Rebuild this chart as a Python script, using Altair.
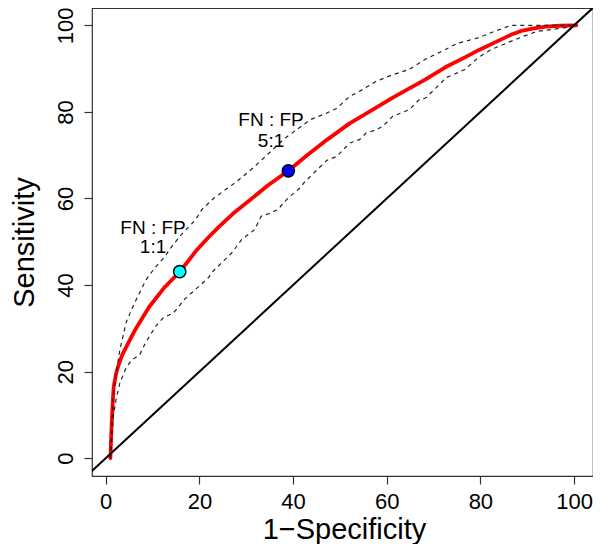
import altair as alt
import pandas as pd

# ---- data ----
roc_x = [1.0, 1.2, 1.5, 1.7, 2.2, 2.65, 3.5, 4.8, 6.2, 7.6, 9.3, 10.7, 12.5, 14.2, 15.8,
         17.5, 19.2, 22.0, 24.1, 27.6, 30.4, 34.6, 39.0, 43.0, 47.3, 52.0, 56.4, 61.3,
         68.3, 72.5, 76.7, 79.5, 83.0, 86.5, 89.0, 91.4, 94.0, 97.0, 100.5]
roc_y = [0.0, 6.0, 13.0, 16.5, 19.5, 21.2, 23.8, 26.6, 29.5, 32.0, 35.0, 36.9, 39.4, 41.3, 43.1,
         45.4, 47.8, 51.1, 53.4, 56.9, 59.3, 63.0, 66.4, 70.0, 73.6, 77.3, 80.1, 83.3,
         87.5, 90.3, 92.6, 94.2, 96.0, 97.8, 98.8, 99.3, 99.7, 99.9, 100.0]

up_x = [1.0, 1.3, 1.6, 2.0, 3.0, 4.4, 5.8, 6.5, 8.6, 10.5, 12.8, 13.6, 16.0, 19.2, 20.5,
        23.0, 25.5, 27.6, 31.1, 34.6, 38.1, 43.7, 47.3, 49.3, 52.0, 54.9, 57.8, 61.3,
        64.8, 68.3, 71.8, 75.0, 79.5, 83.0, 86.5, 100.5]
up_y = [0.0, 8.0, 14.0, 17.8, 25.0, 31.5, 35.0, 36.6, 41.2, 44.0, 46.8, 48.2, 51.5, 55.1, 57.4,
        60.0, 62.0, 63.6, 66.7, 70.2, 73.8, 78.2, 79.8, 80.8, 83.5, 85.2, 87.1, 88.6,
        89.8, 92.2, 94.0, 95.8, 97.1, 98.6, 100.0, 100.0]

lo_x = [1.0, 1.3, 1.6, 2.2, 3.0, 4.2, 5.5, 7.2, 8.2, 9.3, 10.7, 12.3, 14.4, 15.6, 16.7,
        19.9, 22.0, 22.7, 26.9, 29.0, 31.8, 33.2, 34.6, 36.7, 39.0, 41.6, 42.3, 45.0,
        47.2, 49.3, 52.1, 54.2, 55.6, 57.8, 59.2, 61.3, 64.8, 66.9, 68.3, 71.8, 72.5,
        76.7, 79.5, 82.3, 86.5, 89.3, 92.1, 97.0, 100.5]
lo_y = [0.0, 5.0, 9.6, 13.5, 17.3, 20.5, 22.7, 23.8, 26.0, 28.1, 30.5, 32.5, 33.5, 35.0, 36.6,
        39.7, 41.8, 43.0, 47.4, 50.5, 52.8, 55.9, 56.4, 57.4, 60.2, 62.5, 63.6, 66.5,
        68.8, 69.7, 72.8, 73.6, 75.1, 75.9, 76.7, 79.0, 80.5, 82.8, 83.2, 86.9, 87.8,
        89.8, 92.5, 94.4, 96.3, 97.5, 98.6, 99.3, 99.9]

diag_v = [-10, 110]

pt_x = [15.8, 39.0]
pt_y = [43.1, 66.4]
pt_fill = ["#00FFFF", "#0000FF"]

ann_x = [10.1, 10.1, 35.3, 35.3]
ann_y = [51.9, 47.4, 76.8, 71.9]
ann_text = ["FN : FP", "1:1", "FN : FP", "5:1"]

ticks = [0, 20, 40, 60, 80, 100]
X_DOM = [-2.93, 104.05]
Y_DOM = [-4.1, 104.0]

FONT = "Liberation Sans"

# ---- tables ----
def line_df(xs, ys):
    return pd.DataFrame({"x": xs, "y": ys, "i": list(range(len(xs)))})

roc = line_df(roc_x, roc_y)
up = line_df(up_x, up_y)
lo = line_df(lo_x, lo_y)
diag = pd.DataFrame({"x": diag_v, "y": diag_v, "i": [0, 1]})
pts = pd.DataFrame({"x": pt_x, "y": pt_y, "c": pt_fill})
ann = pd.DataFrame({"x": ann_x, "y": ann_y, "t": ann_text})

xs = alt.Scale(domain=X_DOM, nice=False, zero=False)
ys = alt.Scale(domain=Y_DOM, nice=False, zero=False)

x_axis = alt.Axis(values=ticks, title="1\u2212Specificity", grid=False, domain=False,
                  tickSize=8, tickColor="#333333", tickWidth=1.2,
                  labelFont=FONT, labelFontSize=22, labelColor="black", labelPadding=7,
                  titleFont=FONT, titleFontSize=29, titleFontWeight="normal",
                  titleColor="black", titleBaseline="alphabetic", titleY=62, titleX=252,
                  titleAlign="center")
y_axis = alt.Axis(values=ticks, title="Sensitivity", grid=False, domain=False,
                  tickSize=8, tickColor="#333333", tickWidth=1.2,
                  labelFont=FONT, labelFontSize=22, labelColor="black", labelPadding=12,
                  labelAngle=270, labelAlign="center", labelBaseline="alphabetic",
                  titleFont=FONT, titleFontSize=29, titleFontWeight="normal",
                  titleColor="black", titleAngle=270, titleBaseline="alphabetic",
                  titleAlign="center", titleX=-59, titleY=234)

X = alt.X("x:Q", scale=xs, axis=x_axis)
Y = alt.Y("y:Q", scale=ys, axis=y_axis)

red = alt.Chart(roc).mark_line(color="#FF0000", strokeWidth=3.8, strokeCap="round",
                               strokeJoin="round").encode(x=X, y=Y, order="i:Q")
upper = alt.Chart(up).mark_line(color="#222222", strokeWidth=1.2, strokeDash=[4, 4]).encode(
    x="x:Q", y="y:Q", order="i:Q")
lower = alt.Chart(lo).mark_line(color="#222222", strokeWidth=1.2, strokeDash=[4, 4]).encode(
    x="x:Q", y="y:Q", order="i:Q")
dline = alt.Chart(diag).mark_line(color="black", strokeWidth=2, clip=True).encode(
    x="x:Q", y="y:Q", order="i:Q")
points = alt.Chart(pts).mark_circle(size=150, stroke="black", strokeWidth=1.5,
                                    opacity=1).encode(
    x="x:Q", y="y:Q", color=alt.Color("c:N", scale=None))
texts = alt.Chart(ann).mark_text(font=FONT, fontSize=19, align="center",
                                 baseline="alphabetic", color="black").encode(
    x="x:Q", y="y:Q", text="t:N")

chart = alt.layer(red, upper, lower, dline, points, texts).properties(
    width=501, height=468,
    autosize=alt.AutoSizeParams(type="none"),
    padding={"left": 84, "top": 0, "right": 0, "bottom": 68},
    background="white",
).configure_view(stroke="#333333", strokeWidth=1.2)

chart.save("out.html", embed_options={"renderer": "svg", "actions": False})
